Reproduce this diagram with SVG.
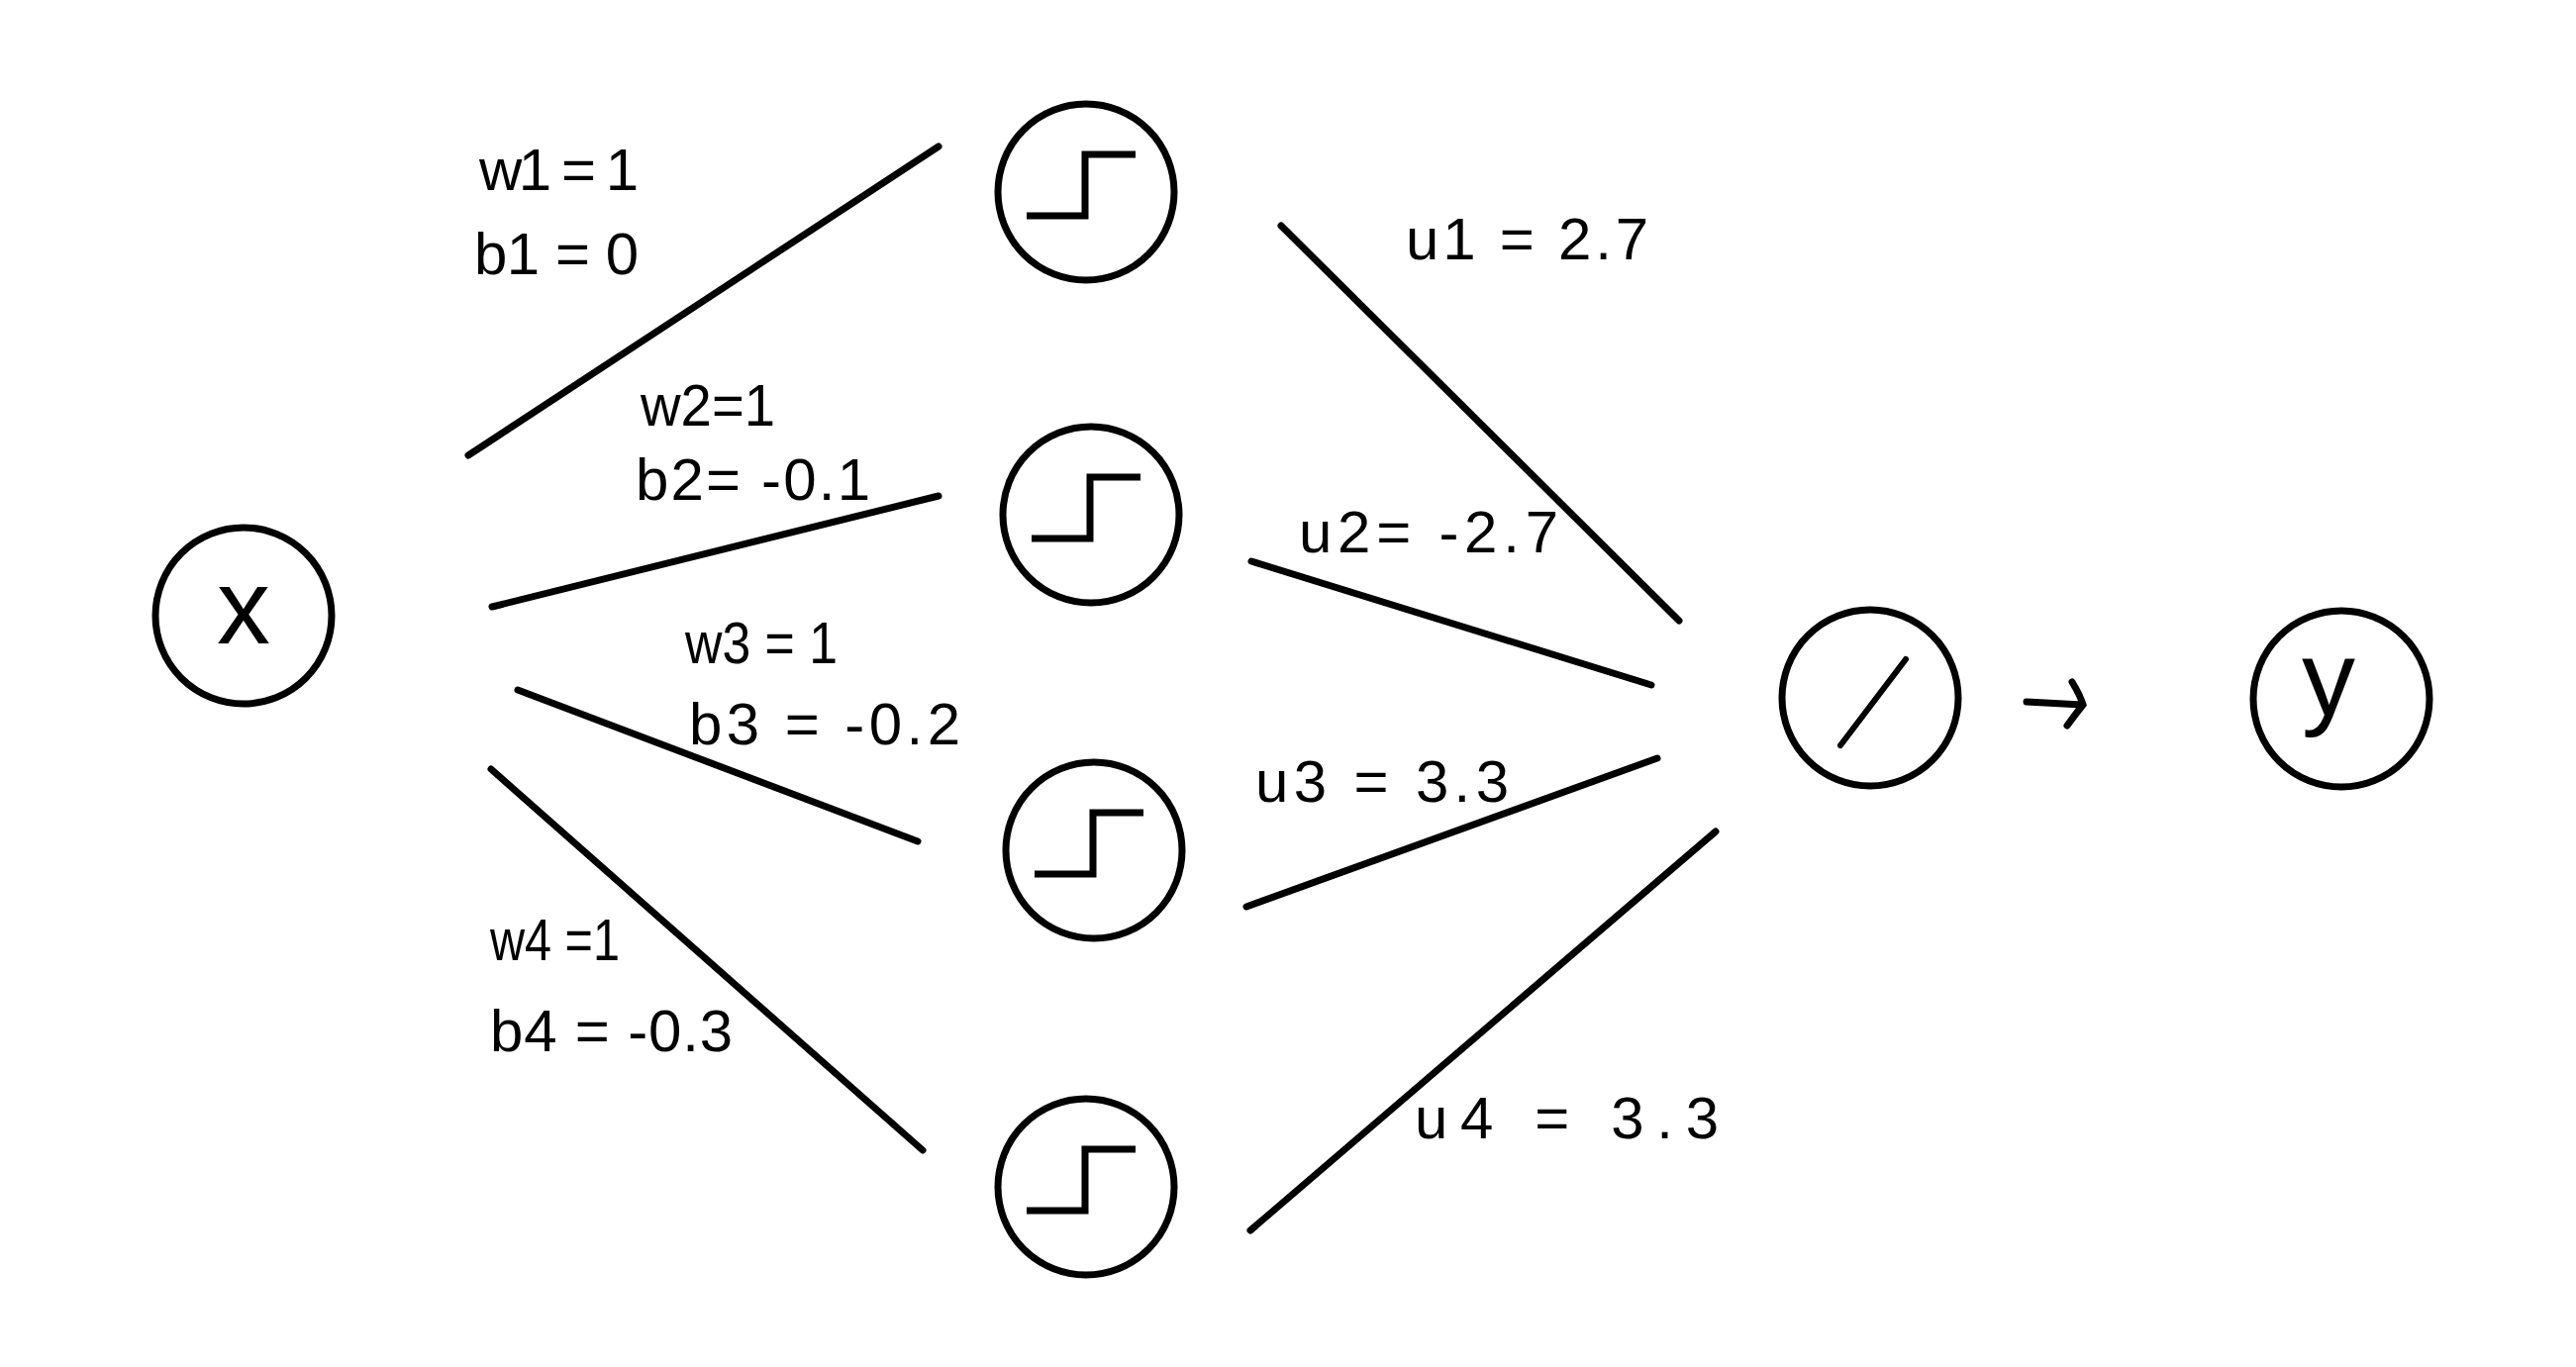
<svg xmlns="http://www.w3.org/2000/svg" width="2602" height="1381" viewBox="0 0 2602 1381">
<style>
.node{fill:#fff;stroke:#000;stroke-width:7}
.sym{fill:none;stroke:#000;stroke-width:7;stroke-linecap:butt}
.edge{stroke:#000;stroke-width:7;stroke-linecap:round;fill:none}
.lbl{font-family:"Liberation Sans","DejaVu Sans",sans-serif;font-size:60px;fill:#000}
.var{font-family:"Liberation Sans","DejaVu Sans",sans-serif;font-size:108px;fill:#000;text-anchor:middle}
</style>
<rect width="2602" height="1381" fill="#fff"/>
<g id="connectors">
<line class="edge" x1="473" y1="460" x2="948" y2="148"/>
<line class="edge" x1="497" y1="613" x2="948" y2="501"/>
<line class="edge" x1="523" y1="697" x2="927" y2="850"/>
<line class="edge" x1="496" y1="777" x2="932" y2="1162"/>
<line class="edge" x1="1294" y1="228" x2="1696" y2="627"/>
<line class="edge" x1="1264" y1="567" x2="1668" y2="692"/>
<line class="edge" x1="1259" y1="916" x2="1674" y2="766"/>
<line class="edge" x1="1263" y1="1243" x2="1733" y2="840"/>
<path class="edge" d="M2047 709 L2103 712 M2093 689 Q2101 702 2104 712 Q2096 722 2088 733"/>
</g>
<g id="node-x">
<circle class="node" cx="246" cy="622" r="89"/>
<text class="var" x="246" y="650">x</text>
</g>
<g id="node-h1">
<circle class="node" cx="1097" cy="194" r="89"/>
<path class="sym" d="M1037 218 H1096 V156 H1147"/>
</g>
<g id="node-h2">
<circle class="node" cx="1102" cy="520" r="89"/>
<path class="sym" d="M1042 544 H1101 V482 H1152"/>
</g>
<g id="node-h3">
<circle class="node" cx="1105" cy="859" r="89"/>
<path class="sym" d="M1045 883 H1104 V821 H1155"/>
</g>
<g id="node-h4">
<circle class="node" cx="1097" cy="1199" r="89"/>
<path class="sym" d="M1037 1223 H1096 V1161 H1147"/>
</g>
<g id="node-out">
<circle class="node" cx="1889" cy="705" r="89"/>
<line class="edge" x1="1859" y1="753" x2="1925" y2="666" style="stroke-width:6"/>
</g>
<g id="node-y">
<circle class="node" cx="2365" cy="706" r="89"/>
<text class="var" x="2352" y="723">y</text>
</g>
<g id="labels">
<text class="lbl" x="484" y="192" textLength="161" lengthAdjust="spacing">w1 = 1</text>
<text class="lbl" x="479" y="277" textLength="166" lengthAdjust="spacing">b1 = 0</text>
<text class="lbl" x="647" y="430" textLength="136" lengthAdjust="spacingAndGlyphs">w2=1</text>
<text class="lbl" x="642" y="505" textLength="237" lengthAdjust="spacing">b2= -0.1</text>
<text class="lbl" x="692" y="670" textLength="154" lengthAdjust="spacingAndGlyphs">w3 = 1</text>
<text class="lbl" x="696" y="752" textLength="274" lengthAdjust="spacing">b3 = -0.2</text>
<text class="lbl" x="495" y="970" textLength="131" lengthAdjust="spacingAndGlyphs">w4 =1</text>
<text class="lbl" x="495" y="1062" textLength="245" lengthAdjust="spacing">b4 = -0.3</text>
<text class="lbl" x="1420" y="262" textLength="245" lengthAdjust="spacing">u1 = 2.7</text>
<text class="lbl" x="1312" y="558" textLength="262" lengthAdjust="spacing">u2= -2.7</text>
<text class="lbl" x="1268" y="810" textLength="256" lengthAdjust="spacing">u3 = 3.3</text>
<text class="lbl" x="1429" y="1150" textLength="307" lengthAdjust="spacing">u4 = 3.3</text>
</g>
</svg>
